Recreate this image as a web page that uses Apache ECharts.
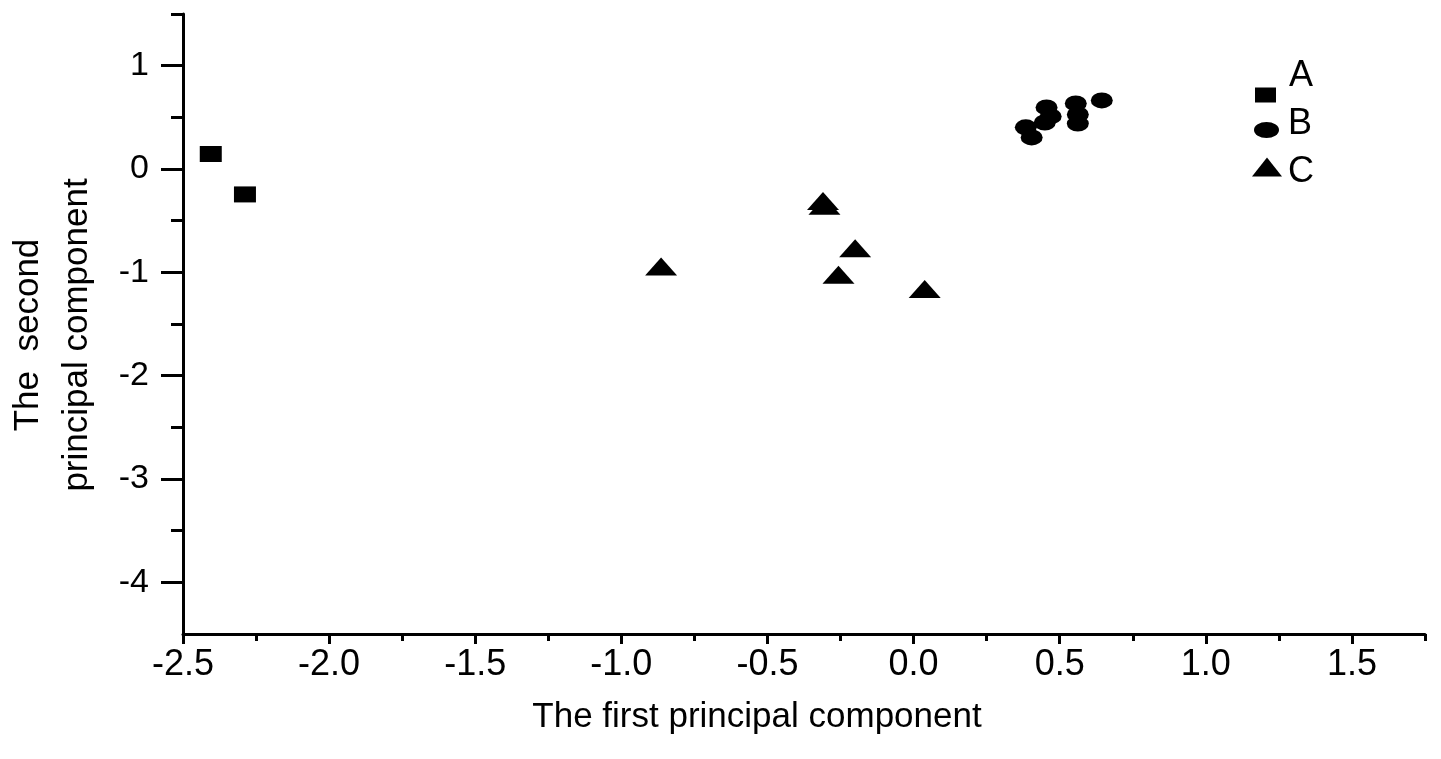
<!DOCTYPE html>
<html>
<head>
<meta charset="utf-8">
<script src="https://cdn.jsdelivr.net/npm/echarts@6/dist/echarts.min.js"></script>
<style>
  html, body { margin: 0; padding: 0; background: #fff; }
  #chart { width: 1441px; height: 759px; }
</style>
</head>
<body>
<div id="chart"></div>
<script>
// data: [first PC, second PC]
const groupA = [[-2.405, 0.145], [-2.288, -0.246]]
const groupB = [
  [0.384, 0.403], [0.404, 0.306], [0.455, 0.596], [0.469, 0.509], [0.449, 0.45],
  [0.555, 0.635], [0.562, 0.528], [0.562, 0.44], [0.644, 0.664]
]
const groupC = [
  [-0.864, -0.943], [-0.31, -0.31], [-0.305, -0.355], [-0.2, -0.766],
  [-0.257, -1.024], [0.038, -1.162]
]
const xMajor = [-2.5, -2.0, -1.5, -1.0, -0.5, 0.0, 0.5, 1.0, 1.5]
const xMinor = [-2.25, -1.75, -1.25, -0.75, -0.25, 0.25, 0.75, 1.25, 1.75]
const yMajor = [-4, -3, -2, -1, 0, 1]
const yMinor = [-3.5, -2.5, -1.5, -0.5, 0.5, 1.5]

const ellipse = 'path://M0,50a50,50 0 1,0 100,0a50,50 0 1,0 -100,0'
// flat version for the legend, where the icon keeps its aspect
const flatEllipse = 'path://M0,32a50,32 0 1,0 100,0a50,32 0 1,0 -100,0'
const font = 'Liberation Sans, Arial, sans-serif'
const ink = '#000'

const chart = echarts.init(document.getElementById('chart'))

// shared axis line / tick look
const lineStyle = { color: ink, width: 3 }

// one legend per group so each label can sit a bit off its icon, as in the picture
function legendItem(name, icon, w, h, left, top, pad) {
  return {
    data: [name],
    orient: 'vertical',
    left: left,
    top: top,
    padding: 0,
    icon: icon,
    itemWidth: w,
    itemHeight: h,
    selectedMode: false,
    itemStyle: { color: ink, opacity: 1 },
    formatter: '{t|{name}}',
    textStyle: {
      fontSize: 36, color: ink, fontFamily: font,
      rich: { t: { fontSize: 36, color: ink, fontFamily: font, padding: pad } }
    }
  }
}

const option = {
  animation: false,
  backgroundColor: '#fff',
  grid: { left: 183, right: 16, top: 14, bottom: 125, containLabel: false, outerBoundsMode: 'none' },
  legend: [
    legendItem('A', 'rect', 21, 15, 1255, 58, [0, 0, 38, 8]),
    legendItem('B', flatEllipse, 25, 16, 1254, 106, [0, 0, 12, 4]),
    legendItem('C', 'triangle', 30, 19, 1252, 154, [10, 0, 0, 1])
  ],
  xAxis: [
    {
      type: 'value',
      min: -2.5,
      max: 1.75,
      interval: 0.5,
      name: 'The first principal component',
      nameLocation: 'middle',
      nameGap: 66,
      nameTextStyle: { fontSize: 35, color: ink, fontFamily: font, padding: [0, 94, 0, 0] },
      axisLine: { onZero: false, lineStyle: lineStyle },
      axisTick: { customValues: xMajor, length: 10, lineStyle: lineStyle },
      axisLabel: {
        customValues: xMajor,
        fontSize: 36,
        color: ink,
        fontFamily: font,
        margin: 13,
        formatter: v => v.toFixed(1)
      },
      splitLine: { show: false }
    },
    {
      // minor ticks only
      type: 'value',
      position: 'bottom',
      min: -2.5,
      max: 1.75,
      axisLine: { show: false, onZero: false },
      axisTick: { customValues: xMinor, length: 7, lineStyle: lineStyle },
      axisLabel: { show: false },
      splitLine: { show: false }
    }
  ],
  yAxis: [
    {
      type: 'value',
      min: -4.5,
      max: 1.5,
      name: 'The  second\nprincipal component',
      nameLocation: 'middle',
      nameRotate: 90,
      nameGap: 81,
      nameTextStyle: { fontSize: 35, lineHeight: 49, color: ink, fontFamily: font, padding: [0, 22, 0, 0] },
      axisLine: { onZero: false, lineStyle: lineStyle },
      axisTick: { customValues: yMajor, length: 22, lineStyle: lineStyle },
      axisLabel: {
        customValues: yMajor,
        fontSize: 34,
        color: ink,
        fontFamily: font,
        margin: 34,
        padding: [0, 0, 10, 0]
      },
      splitLine: { show: false }
    },
    {
      type: 'value',
      position: 'left',
      min: -4.5,
      max: 1.5,
      axisLine: { show: false, onZero: false },
      axisTick: { customValues: yMinor, length: 12, lineStyle: lineStyle },
      axisLabel: { show: false },
      splitLine: { show: false }
    }
  ],
  series: [
    { name: 'A', type: 'scatter', data: groupA, symbol: 'rect', symbolSize: [22, 16], itemStyle: { color: ink, opacity: 1 } },
    { name: 'B', type: 'scatter', data: groupB, symbol: ellipse, symbolKeepAspect: false, symbolSize: [22, 16], itemStyle: { color: ink, opacity: 1 } },
    { name: 'C', type: 'scatter', data: groupC, symbol: 'triangle', symbolSize: [32, 18], itemStyle: { color: ink, opacity: 1 } }
  ]
}

chart.setOption(option)
</script>
</body>
</html>
